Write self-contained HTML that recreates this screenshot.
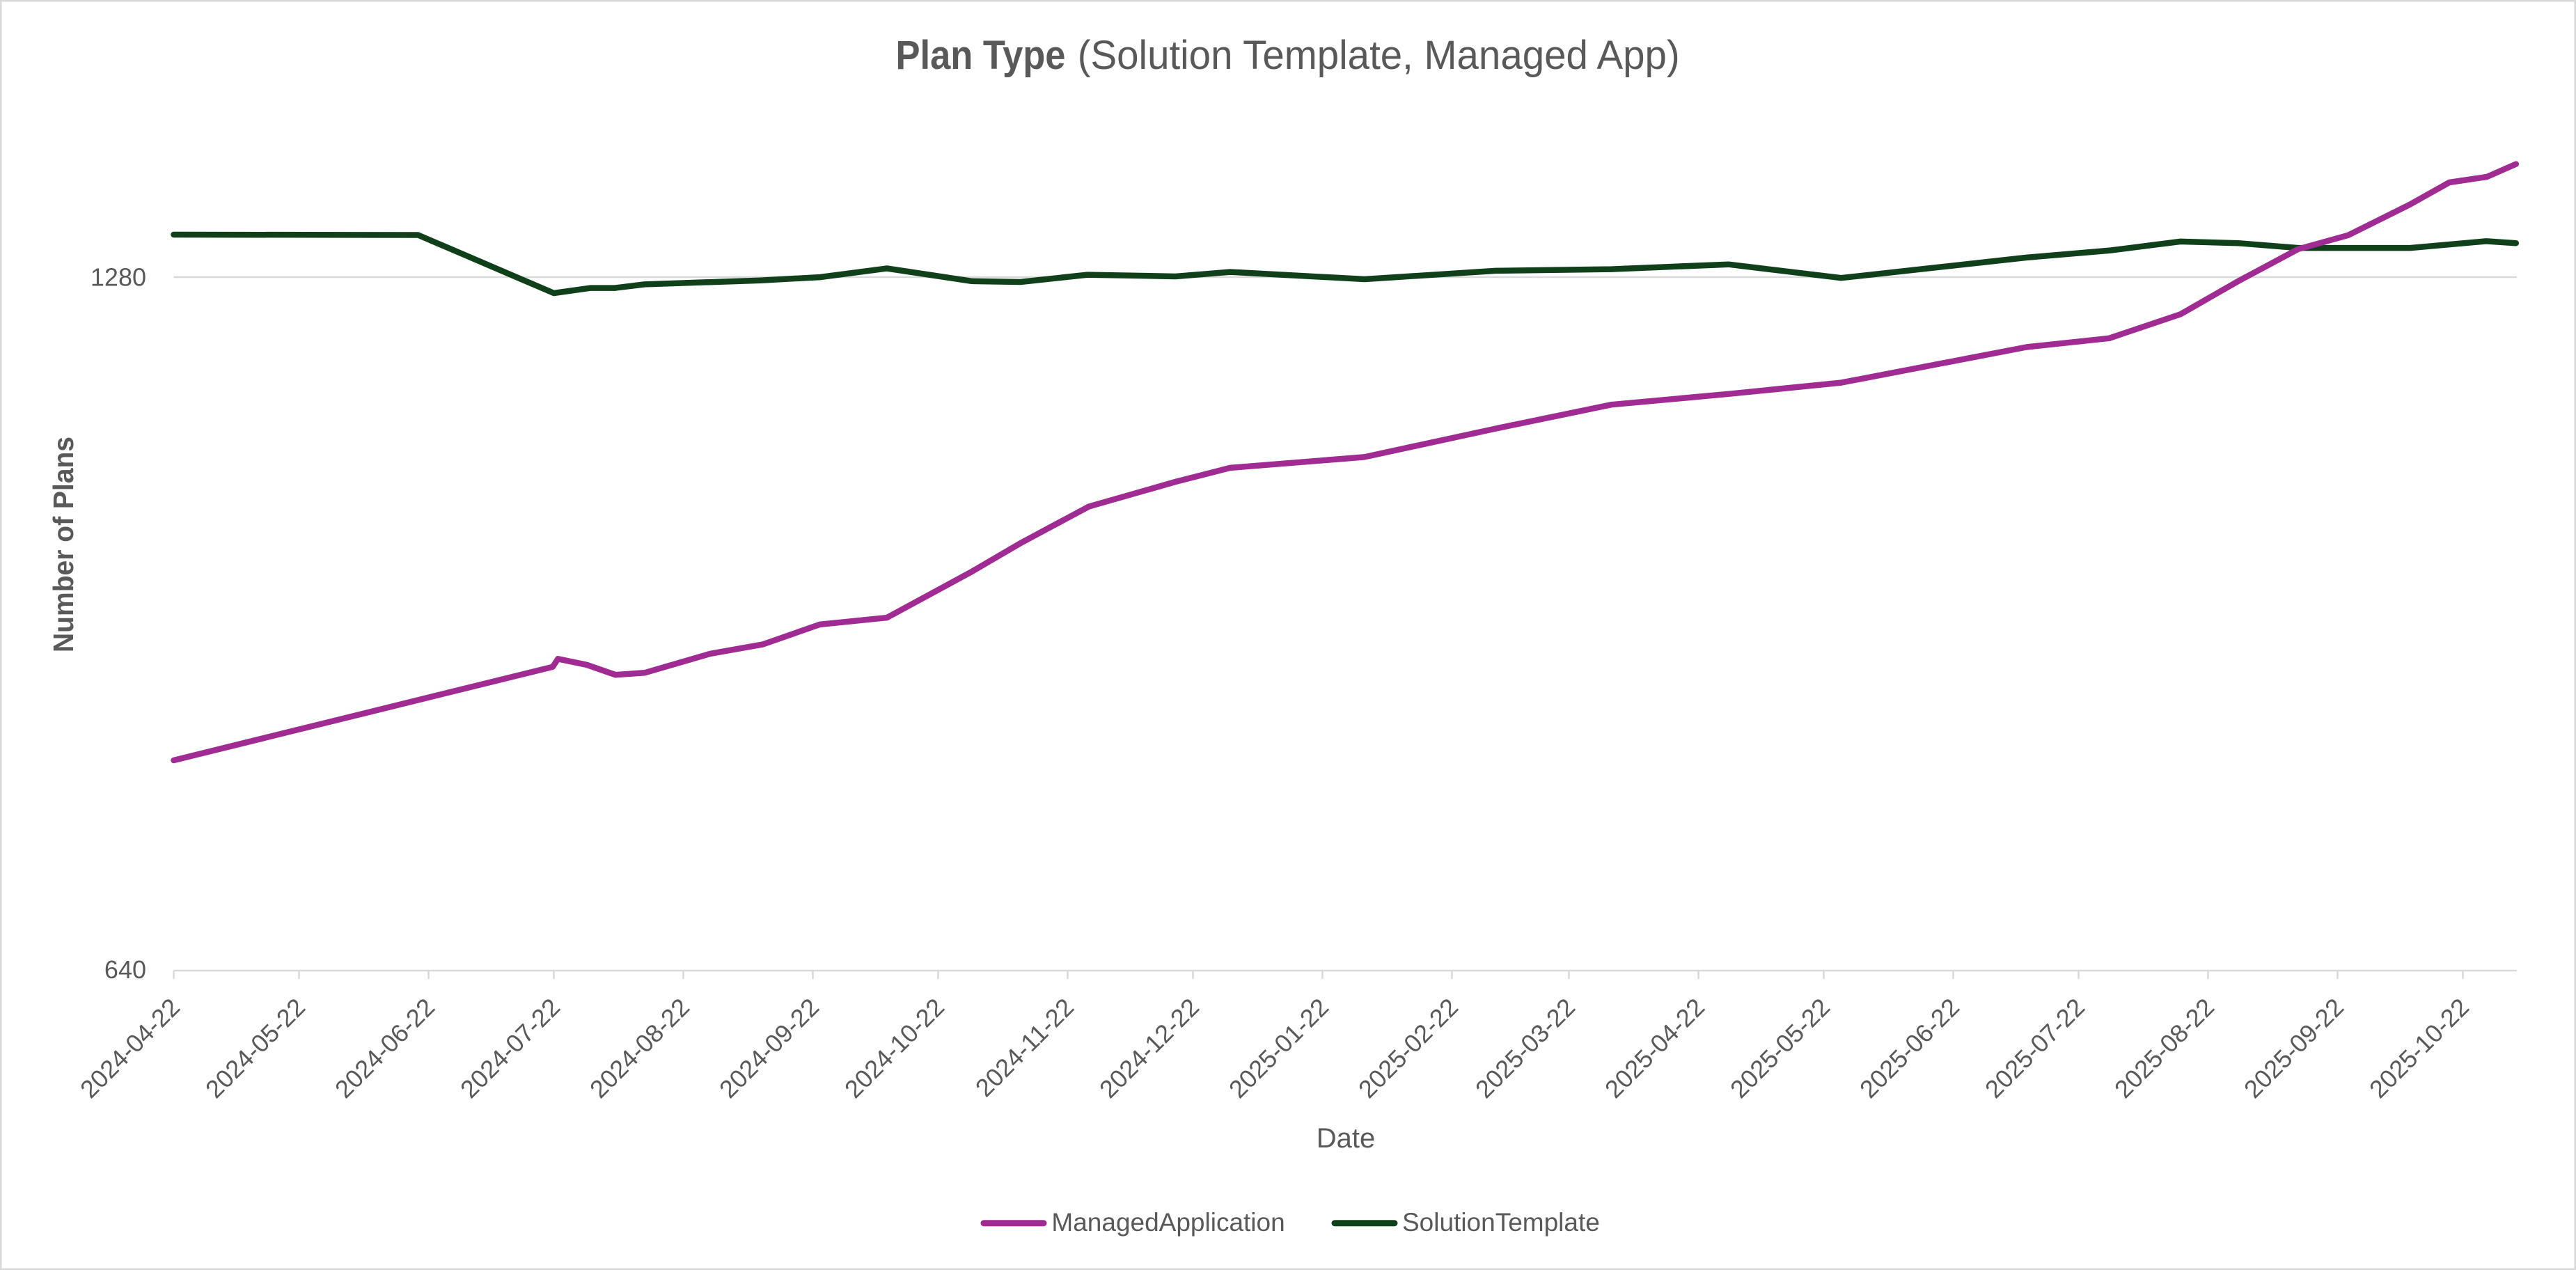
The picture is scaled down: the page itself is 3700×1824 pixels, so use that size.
<!DOCTYPE html>
<html>
<head>
<meta charset="utf-8">
<style>
  html, body { margin: 0; padding: 0; background: #ffffff; }
  svg { display: block; }
  text { font-family: "Liberation Sans", "DejaVu Sans", sans-serif; fill: #595959; }
</style>
</head>
<body>
<svg width="3700" height="1824" viewBox="0 0 3700 1824" xmlns="http://www.w3.org/2000/svg">
  <rect x="0" y="0" width="3700" height="1824" fill="#ffffff"/>
  <rect x="1.25" y="1.25" width="3697.5" height="1821.5" fill="none" stroke="#d9d9d9" stroke-width="2.5"/>

  <!-- Title -->
  <text x="1286.5" y="99" font-size="58" font-weight="bold" textLength="244" lengthAdjust="spacingAndGlyphs">Plan Type</text>
  <text x="1547.7" y="99" font-size="58" textLength="865" lengthAdjust="spacingAndGlyphs">(Solution Template, Managed App)</text>

  <!-- Gridline at 1280 -->
  <line x1="249.5" y1="398" x2="3615" y2="398" stroke="#d9d9d9" stroke-width="2.5"/>

  <!-- X axis line -->
  <line x1="249.5" y1="1394" x2="3615" y2="1394" stroke="#d9d9d9" stroke-width="2.5"/>

  <!-- Ticks -->
  <g stroke="#d9d9d9" stroke-width="2.5">
    <line x1="249.5" y1="1394" x2="249.5" y2="1406"/>
    <line x1="429.5" y1="1394" x2="429.5" y2="1406"/>
    <line x1="615.5" y1="1394" x2="615.5" y2="1406"/>
    <line x1="795.5" y1="1394" x2="795.5" y2="1406"/>
    <line x1="981.5" y1="1394" x2="981.5" y2="1406"/>
    <line x1="1167.5" y1="1394" x2="1167.5" y2="1406"/>
    <line x1="1347.5" y1="1394" x2="1347.5" y2="1406"/>
    <line x1="1533.5" y1="1394" x2="1533.5" y2="1406"/>
    <line x1="1713.5" y1="1394" x2="1713.5" y2="1406"/>
    <line x1="1899.5" y1="1394" x2="1899.5" y2="1406"/>
    <line x1="2085.5" y1="1394" x2="2085.5" y2="1406"/>
    <line x1="2253.5" y1="1394" x2="2253.5" y2="1406"/>
    <line x1="2439.5" y1="1394" x2="2439.5" y2="1406"/>
    <line x1="2619.5" y1="1394" x2="2619.5" y2="1406"/>
    <line x1="2805.5" y1="1394" x2="2805.5" y2="1406"/>
    <line x1="2985.5" y1="1394" x2="2985.5" y2="1406"/>
    <line x1="3171.5" y1="1394" x2="3171.5" y2="1406"/>
    <line x1="3357.5" y1="1394" x2="3357.5" y2="1406"/>
    <line x1="3537.5" y1="1394" x2="3537.5" y2="1406"/>
  </g>

  <!-- Y labels -->
  <text x="210" y="410.5" font-size="36" text-anchor="end">1280</text>
  <text x="210" y="1405" font-size="36" text-anchor="end">640</text>

  <!-- X labels -->
  <g font-size="36" text-anchor="end">
    <text transform="translate(260.5,1449) rotate(-45)">2024-04-22</text>
    <text transform="translate(440.5,1449) rotate(-45)">2024-05-22</text>
    <text transform="translate(626.5,1449) rotate(-45)">2024-06-22</text>
    <text transform="translate(806.5,1449) rotate(-45)">2024-07-22</text>
    <text transform="translate(992.5,1449) rotate(-45)">2024-08-22</text>
    <text transform="translate(1178.5,1449) rotate(-45)">2024-09-22</text>
    <text transform="translate(1358.5,1449) rotate(-45)">2024-10-22</text>
    <text transform="translate(1544.5,1449) rotate(-45)">2024-11-22</text>
    <text transform="translate(1724.5,1449) rotate(-45)">2024-12-22</text>
    <text transform="translate(1910.5,1449) rotate(-45)">2025-01-22</text>
    <text transform="translate(2096.5,1449) rotate(-45)">2025-02-22</text>
    <text transform="translate(2264.5,1449) rotate(-45)">2025-03-22</text>
    <text transform="translate(2450.5,1449) rotate(-45)">2025-04-22</text>
    <text transform="translate(2630.5,1449) rotate(-45)">2025-05-22</text>
    <text transform="translate(2816.5,1449) rotate(-45)">2025-06-22</text>
    <text transform="translate(2996.5,1449) rotate(-45)">2025-07-22</text>
    <text transform="translate(3182.5,1449) rotate(-45)">2025-08-22</text>
    <text transform="translate(3368.5,1449) rotate(-45)">2025-09-22</text>
    <text transform="translate(3548.5,1449) rotate(-45)">2025-10-22</text>
  </g>

  <!-- Axis titles -->
  <text transform="translate(105,782) rotate(-90)" font-size="41" font-weight="bold" text-anchor="middle" textLength="310" lengthAdjust="spacingAndGlyphs">Number of Plans</text>
  <text x="1933" y="1648" font-size="40" text-anchor="middle">Date</text>

  <!-- SolutionTemplate series -->
  <polyline fill="none" stroke="#10401a" stroke-width="8.5" stroke-linejoin="round" stroke-linecap="round"
    points="249.5,337 600.5,337.5 795.5,421 848.4,413.6 882.9,413.6 925.9,408.4 1092.4,402.7 1177.5,398.1 1273.9,385.5 1395.6,403.8 1465.6,405 1562,394.6 1688.3,397 1767,390.6 1960,401 2148,388.9 2314.5,386.6 2482.7,379.7 2644.5,399.2 2910.7,369.9 3031.3,359.6 3131.7,346.9 3214.9,349.2 3301,356.1 3461.7,356.1 3570.8,346.4 3613.8,349.2"/>

  <!-- ManagedApplication series -->
  <polyline fill="none" stroke="#a02b93" stroke-width="8.5" stroke-linejoin="round" stroke-linecap="round"
    points="249.5,1092 793.9,957.7 801.4,946.3 842.7,954.8 884,969.2 925.9,966.3 1020.6,938.8 1095.2,925.6 1177.5,896.9 1273.9,887.1 1395.6,821.1 1467.4,779.2 1563.8,727.6 1688.3,692 1767,671.9 1959.8,656.4 2148,615.6 2314.5,581.2 2483.8,565.7 2644.5,549.6 2910.7,498.5 3029.5,485.8 3131.7,451.4 3214.9,403.8 3301,357.8 3372.8,337.8 3461.7,293.6 3518,262 3572,254 3613.8,235.6"/>

  <!-- Legend -->
  <line x1="1413" y1="1756.7" x2="1499" y2="1756.7" stroke="#a02b93" stroke-width="9" stroke-linecap="round"/>
  <text x="1510.4" y="1768" font-size="37">ManagedApplication</text>
  <line x1="1917" y1="1756.7" x2="2003" y2="1756.7" stroke="#10401a" stroke-width="9" stroke-linecap="round"/>
  <text x="2014" y="1768" font-size="37">SolutionTemplate</text>
</svg>
</body>
</html>
